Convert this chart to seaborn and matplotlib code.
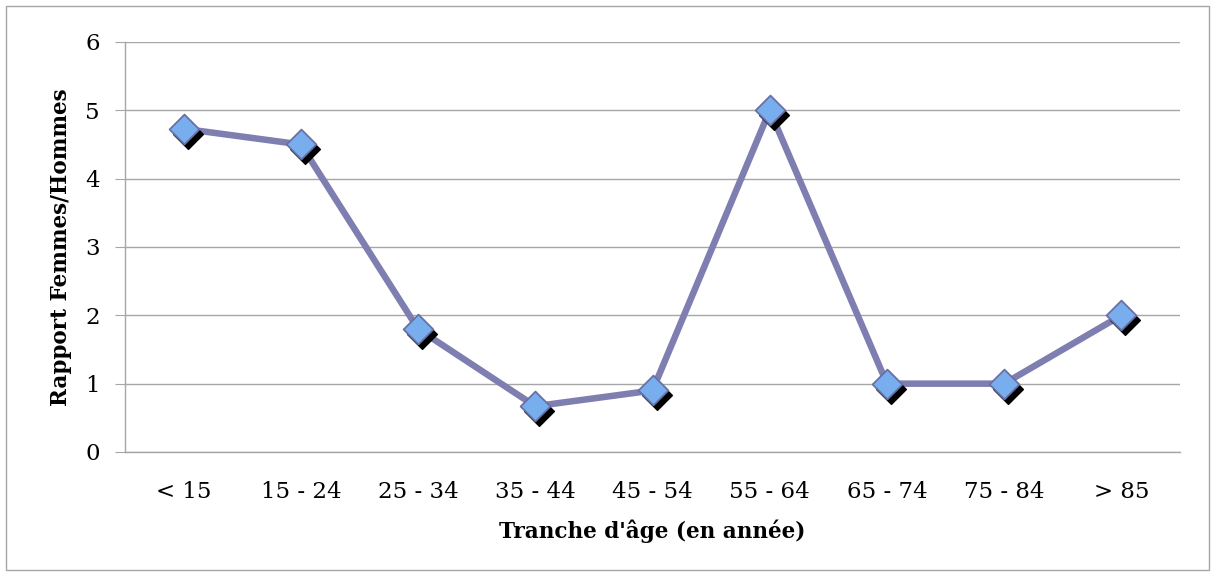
import matplotlib
matplotlib.use('Agg')
import matplotlib.pyplot as plt
import matplotlib.transforms as mtransforms
import pandas as pd
import seaborn as sns

# Data
tranches = ['< 15', '15 - 24', '25 - 34', '35 - 44', '45 - 54', '55 - 64', '65 - 74', '75 - 84', '> 85']
rapport = [4.73, 4.5, 1.8, 0.67, 0.9, 5.0, 1.0, 1.0, 2.0]

df = pd.DataFrame({'tranche': tranches, 'rapport': rapport})
df['pos'] = range(len(df))

sns.set_style('white')
plt.rcParams['font.family'] = ['DejaVu Serif']
plt.rcParams['text.color'] = 'black'
plt.rcParams['axes.labelcolor'] = 'black'
plt.rcParams['xtick.color'] = 'black'
plt.rcParams['ytick.color'] = 'black'

fig = plt.figure(figsize=(12.15, 5.76), dpi=100)
ax = fig.add_axes([0.1029, 0.2153, 0.8683, 0.7118])

line_col = '#7E7EB0'
# line
sns.lineplot(data=df, x='pos', y='rapport', ax=ax, color=line_col, linewidth=4.7, zorder=3)

# marker shadows (offset down-right)
shadow = mtransforms.offset_copy(ax.transData, fig=fig, x=4, y=-5, units='dots')
ax.scatter(df['pos'], df['rapport'], marker='D', s=230, color='black', transform=shadow, zorder=4)
# markers
sns.scatterplot(data=df, x='pos', y='rapport', ax=ax, marker='D', s=230,
                color='#78AEEE', edgecolor='#6A70A6', linewidth=1.3, zorder=5)

ax.set_xlim(-0.5, len(tranches) - 0.5)
ax.set_ylim(0, 6)
ax.set_yticks(range(0, 7))
ax.set_xticks(df['pos'])
ax.set_xticklabels(tranches)
ax.grid(axis='y', color='#A6A6A6', linewidth=1)
ax.set_axisbelow(True)

for s in ['top', 'right']:
    ax.spines[s].set_visible(False)
for s in ['left', 'bottom']:
    ax.spines[s].set_color('#A6A6A6')
    ax.spines[s].set_linewidth(1)

ax.tick_params(axis='y', length=7, color='#A6A6A6', labelcolor='black', labelsize=16.5, pad=11, left=True)
ax.tick_params(axis='x', length=0, labelcolor='black', labelsize=16.5, pad=21)

ax.set_xlabel("Tranche d'âge (en année)", fontsize=15.5, fontweight='bold', labelpad=12)
ax.set_ylabel('Rapport Femmes/Hommes', fontsize=15.5, fontweight='bold', labelpad=10)

# outer chart border
border = plt.Rectangle((0.005, 0.01), 0.99, 0.98, transform=fig.transFigure,
                       fill=False, edgecolor='#A6A6A6', linewidth=1)
fig.patches.append(border)

fig.savefig('out.png', dpi=100)
